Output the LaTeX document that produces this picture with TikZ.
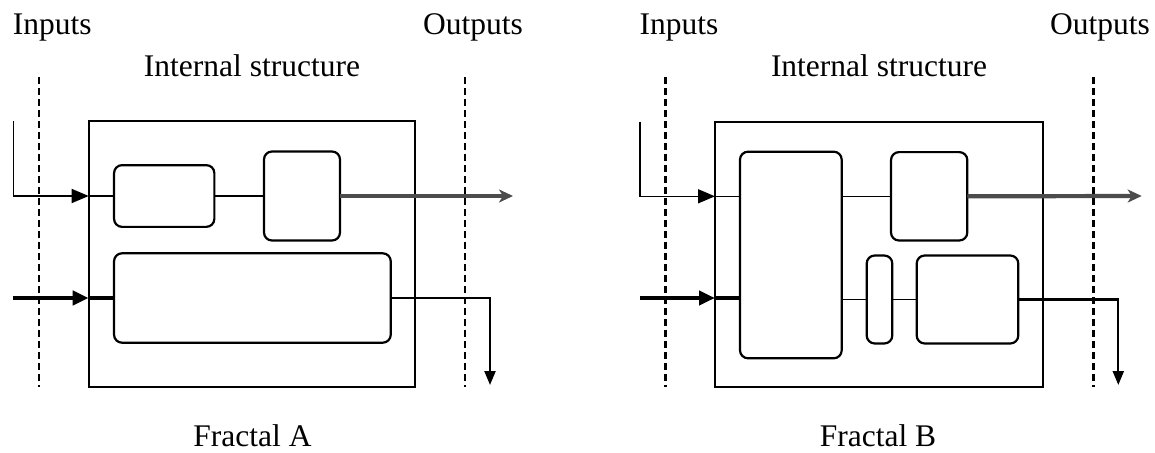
\documentclass[tikz,border=0pt]{standalone}
\usepackage{fontspec}
\setmainfont{Liberation Serif}
\usetikzlibrary{arrows.meta,calc}
\begin{document}
\begin{tikzpicture}[x=1pt,y=-1pt,
  lbl/.style={inner sep=0pt,font=\fontsize{31.5}{36}\selectfont},
  outerbox/.style={draw,line width=2.2pt,inner sep=0pt,outer sep=0pt},
  blk/.style={draw,line width=2.2pt,rounded corners=8pt,inner sep=0pt,outer sep=0pt},
  bound/.style={line width=2.4pt,dash pattern=on 7pt off 4pt},
  thinline/.style={line width=1.6pt},
  inthin/.style={line width=1.6pt,-{Triangle[length=17pt,width=14pt]}},
  inthick/.style={line width=4.5pt,-{Triangle[length=16pt,width=14pt]}},
  thickline/.style={line width=4.5pt},
  outflow/.style={line width=4.2pt,black!70,-{Stealth[length=14pt,width=13pt,inset=4pt]}},
  outdown/.style={line width=2.2pt,-{Triangle[length=14pt,width=11pt]}}
]
\useasboundingbox (0,0) rectangle (1155,452);

% ---------------- Fractal A ----------------
\node[lbl,anchor=base west] (tinA) at (12.7,35) {Inputs};
\node[lbl,anchor=base west] (toutA) at (423,35) {Outputs};
\node[lbl,anchor=base] (tintA) at (252,76) {Internal structure};
\node[lbl,anchor=base] (tfA) at (252.5,446) {Fractal A};

\coordinate (dAL1) at (39,77);
\coordinate (dAL2) at (39,387);
\coordinate (dAR1) at (465,77);
\coordinate (dAR2) at (465,387);
\draw[bound] (dAL1) -- (dAL2);
\draw[bound] (dAR1) -- (dAR2);

\node[outerbox,minimum width=326.6pt,minimum height=265.7pt] (oA) at (252,253.9) {};
\node[blk,minimum width=100.3pt,minimum height=61.7pt] (a1) at (164.2,196) {};
\node[blk,minimum width=76pt,minimum height=89pt] (a2) at (302,196) {};
\node[blk,minimum width=276.7pt,minimum height=89.4pt] (a3) at (252.4,298) {};

\coordinate (inA1) at (13.3,121);
\coordinate (inA2) at (13.3,298);
\coordinate (outA1) at (513,196);
\coordinate (outA2) at (490,385);

\draw[inthin] (inA1) |- (oA.west |- a1.west);
\draw[thinline] (oA.west |- a1.west) -- (a1.west);
\draw[thinline] (a1.east) -- (a2.west);
\draw[outflow] (a2.east) -- (outA1);
\draw[inthick] (inA2) -- (oA.west |- a3.west);
\draw[thickline] (oA.west |- a3.west) -- (a3.west);
\draw[outdown] (a3.east) -| (outA2);

% ---------------- Fractal B ----------------
\node[lbl,anchor=base west] (tinB) at (639.3,35) {Inputs};
\node[lbl,anchor=base west] (toutB) at (1050,35) {Outputs};
\node[lbl,anchor=base] (tintB) at (879,76) {Internal structure};
\node[lbl,anchor=base] (tfB) at (878,446) {Fractal B};

\coordinate (dBL1) at (665.3,77);
\coordinate (dBL2) at (665.3,387);
\coordinate (dBR1) at (1093.3,77);
\coordinate (dBR2) at (1093.3,387);
\draw[bound] (dBL1) -- (dBL2);
\draw[bound] (dBR1) -- (dBR2);

\node[outerbox,minimum width=327.7pt,minimum height=265pt] (oB) at (878.85,254.2) {};
\node[blk,minimum width=101.7pt,minimum height=206.6pt] (b1) at (790.85,255) {};
\node[blk,minimum width=76.3pt,minimum height=88.4pt] (b2) at (929.15,196.3) {};
\node[blk,minimum width=25.6pt,minimum height=88pt] (b3) at (879.5,299.5) {};
\node[blk,minimum width=101.6pt,minimum height=88pt] (b4) at (967.5,299.5) {};

\coordinate (inB1) at (640,121.7);
\coordinate (inB2) at (640,298);
\coordinate (outB1) at (1141.7,196);
\coordinate (outB2) at (1118.3,385);

\draw[inthin] (inB1) |- (oB.west |- b2.west);
\draw[thinline] (oB.west |- b2.west) -- (b1.west |- b2.west);
\draw[thinline] (b1.east |- b2.west) -- (b2.west);
\draw[outflow] (b2.east) -- (outB1);
\draw[inthick] (inB2) -- (oB.west |- inB2);
\draw[thickline] (oB.west |- inB2) -- (b1.west |- inB2);
\draw[thinline] (b1.east |- b3.west) -- (b3.west);
\draw[thinline] (b3.east) -- (b4.west);
\draw[outdown] (b4.east) -| (outB2);
\end{tikzpicture}
\end{document}
